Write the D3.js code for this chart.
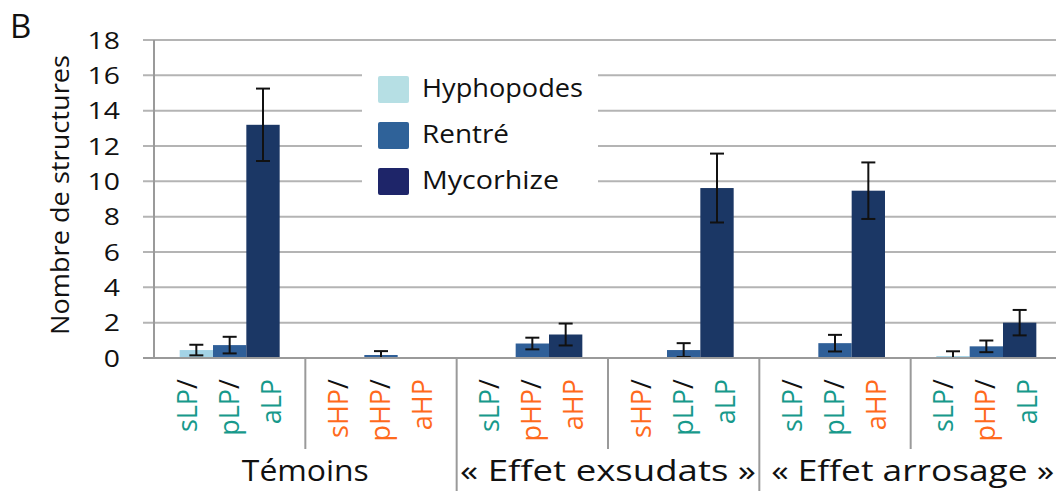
<!DOCTYPE html>
<html>
<head>
<meta charset="utf-8">
<script src="https://cdn.jsdelivr.net/npm/d3@7"></script>
<style>
  html, body { margin: 0; padding: 0; background: #fff; }
  svg { display: block; font-family: "Open Sans", "Noto Sans", sans-serif; }
</style>
</head>
<body>
<svg id="chart" width="1056" height="491"></svg>
<script>
// Structure counts per treatment pair (mean ± error)
const groupLabels = [
  ["sLP", "pLP", "aLP"],
  ["sHP", "pHP", "aHP"],
  ["sLP", "pHP", "aHP"],
  ["sHP", "pLP", "aLP"],
  ["sLP", "pLP", "aHP"],
  ["sLP", "pHP", "aLP"]
];
const seriesNames = ["Hyphopodes", "Rentré", "Mycorhize"];
const hyphopodes = [0.45, 0, 0, 0, 0, 0.11];
const hyphopodesErr = [0.3, 0, 0, 0, 0, 0.27];
const rentre = [0.73, 0.17, 0.82, 0.45, 0.84, 0.66];
const rentreErr = [0.47, 0.22, 0.33, 0.39, 0.47, 0.33];
const mycorhize = [13.2, 0, 1.33, 9.62, 9.47, 2.0];
const mycorhizeErr = [2.05, 0, 0.62, 1.95, 1.6, 0.72];
const superGroups = ["Témoins", "« Effet exsudats »", "« Effet arrosage »"];
const yTicks = [0, 2, 4, 6, 8, 10, 12, 14, 16, 18];

const barColors = ["#a3d3e6", "#2f5f98", "#1b3765"];
const legendColors = ["#b6dfe4", "#2f6299", "#1e2569"];
const teal = "#17998b";
const orange = "#ff6a1c";

const svg = d3.select("#chart");

const plotLeft = 154, plotRight = 1062, plotTop = 40, plotBottom = 358;

const x = d3.scaleBand()
  .domain(d3.range(groupLabels.length))
  .range([plotLeft, plotRight])
  .paddingInner(0).paddingOuter(0);

const xs = d3.scaleBand()
  .domain(seriesNames)
  .range([0, x.bandwidth()])
  .paddingInner(0)
  .paddingOuter(0.77);

const y = d3.scaleLinear().domain([0, 18]).range([plotBottom, plotTop]);

// gridlines + outer tick marks
svg.append("g")
  .selectAll("line")
  .data(yTicks)
  .join("line")
  .attr("x1", plotLeft - 11)
  .attr("x2", plotRight)
  .attr("y1", d => y(d))
  .attr("y2", d => y(d))
  .attr("stroke", d => d === 0 ? "#9a9a9a" : "#b4b4b4")
  .attr("stroke-width", 2);

// y axis line
svg.append("line")
  .attr("x1", plotLeft).attr("x2", plotLeft)
  .attr("y1", y(18)).attr("y2", y(0))
  .attr("stroke", "#9a9a9a").attr("stroke-width", 2);

// tick labels (slightly widened glyphs)
svg.append("g")
  .selectAll("text")
  .data(yTicks)
  .join("text")
  .attr("transform", d => `translate(120,${y(d)}) scale(1.18,1)`)
  .attr("dy", "0.36em")
  .attr("text-anchor", "end")
  .attr("font-size", 24)
  .attr("fill", "#111")
  .text(d => d);

// y axis title
svg.append("text")
  .attr("transform", "translate(69,195) rotate(-90)")
  .attr("text-anchor", "middle")
  .attr("font-size", 25)
  .attr("textLength", 280)
  .attr("lengthAdjust", "spacingAndGlyphs")
  .attr("fill", "#111")
  .text("Nombre de structures");

// panel letter
svg.append("text")
  .attr("x", 10).attr("y", 38)
  .attr("font-size", 33)
  .attr("fill", "#111")
  .text("B");

// legend box (white, covering gridlines)
const legendWidths = [161, 87, 137];
const legend = svg.append("g");
legend.append("rect")
  .attr("x", 362).attr("y", 64).attr("width", 236).attr("height", 142)
  .attr("fill", "#fff");
const legendRows = legend.selectAll("g")
  .data(seriesNames)
  .join("g")
  .attr("transform", (d, i) => `translate(378,${76 + i * 46})`);
legendRows.append("rect")
  .attr("width", 31).attr("height", 27).attr("rx", 2)
  .attr("fill", (d, i) => legendColors[i]);
legendRows.append("text")
  .attr("x", 44).attr("y", 21)
  .attr("font-size", 25)
  .attr("textLength", (d, i) => legendWidths[i])
  .attr("lengthAdjust", "spacingAndGlyphs")
  .attr("fill", "#111")
  .text(d => d);

// bars
const seriesData = [
  { name: seriesNames[0], values: hyphopodes, errs: hyphopodesErr },
  { name: seriesNames[1], values: rentre, errs: rentreErr },
  { name: seriesNames[2], values: mycorhize, errs: mycorhizeErr }
];
const barsG = svg.append("g");
seriesData.forEach((s, si) => {
  const pts = s.values.map((v, gi) => ({ gi, v, e: s.errs[gi] }));
  barsG.append("g")
    .selectAll("rect")
    .data(pts.filter(p => p.v > 0))
    .join("rect")
    .attr("x", p => x(p.gi) + xs(s.name))
    .attr("width", xs.bandwidth())
    .attr("y", p => y(p.v))
    .attr("height", p => y(0) - y(p.v))
    .attr("fill", barColors[si]);
});

// error bars
const errG = svg.append("g").attr("stroke", "#111").attr("stroke-width", 2);
seriesData.forEach(s => {
  s.values.forEach((v, gi) => {
    if (v <= 0) return;
    const e = s.errs[gi];
    const cx = x(gi) + xs(s.name) + xs.bandwidth() / 2;
    const top = y(v + e), bot = y(Math.max(0, v - e));
    errG.append("line").attr("x1", cx).attr("x2", cx).attr("y1", top).attr("y2", bot);
    errG.append("line").attr("x1", cx - 7).attr("x2", cx + 7).attr("y1", top).attr("y2", top);
    if (v - e > 0) {
      errG.append("line").attr("x1", cx - 7).attr("x2", cx + 7).attr("y1", bot).attr("y2", bot);
    }
  });
});

// redraw baseline over bars
svg.append("line")
  .attr("x1", plotLeft - 11).attr("x2", plotRight)
  .attr("y1", y(0)).attr("y2", y(0))
  .attr("stroke", "#9a9a9a").attr("stroke-width", 2);

// separators in label area
const sepG = svg.append("g").attr("stroke", "#9a9a9a").attr("stroke-width", 2);
d3.range(1, groupLabels.length).forEach(i => {
  const sx = x(i);
  const long = i % 2 === 0;
  sepG.append("line")
    .attr("x1", sx).attr("x2", sx)
    .attr("y1", plotBottom).attr("y2", long ? 491 : 449);
});

// rotated treatment labels
const labG = svg.append("g");
groupLabels.forEach((labs, gi) => {
  const cx = x(gi) + x.bandwidth() / 2;
  labs.forEach((lab, li) => {
    const colX = cx + (li - 1) * 42 + 9;
    const t = labG.append("text")
      .attr("transform", `translate(${colX},379) rotate(-90)`)
      .attr("text-anchor", "end")
      .attr("font-size", 27);
    t.append("tspan")
      .attr("fill", lab.includes("LP") ? teal : orange)
      .text(lab);
    if (li < 2) {
      t.append("tspan").attr("fill", "#111").text("/");
    }
  });
});

// treatment group titles
const superWidths = [127, 296, 283];
svg.append("g")
  .selectAll("text")
  .data(superGroups)
  .join("text")
  .attr("x", (d, i) => x(i * 2 + 1) + (i === 2 ? 2 : 0))
  .attr("y", 481)
  .attr("text-anchor", "middle")
  .attr("font-size", 30)
  .attr("textLength", (d, i) => superWidths[i])
  .attr("lengthAdjust", "spacingAndGlyphs")
  .attr("fill", "#111")
  .text(d => d);
</script>
</body>
</html>
